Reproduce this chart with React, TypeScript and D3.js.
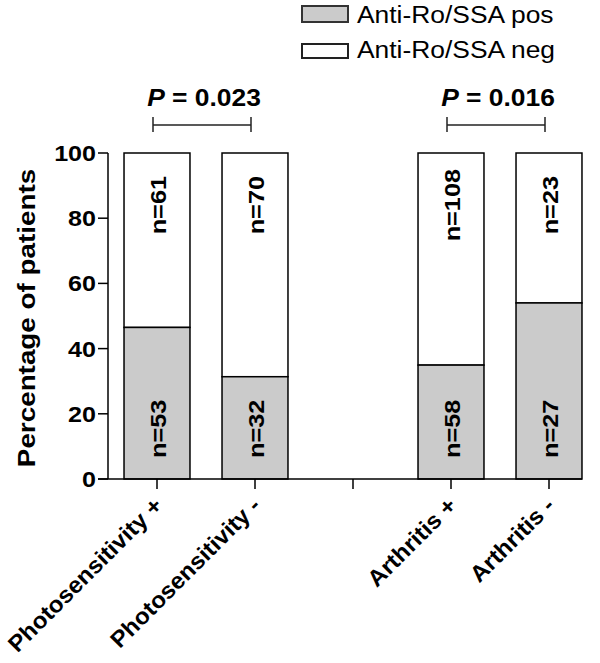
import React from "react";
import * as d3 from "d3";

const categories = ["Photosensitivity +", "Photosensitivity -", "", "Arthritis +", "Arthritis -"];
const posCounts = [53, 32, null, 58, 27];
const negCounts = [61, 70, null, 108, 23];
const yTicks = [0, 20, 40, 60, 80, 100];
const seriesNames = ["Anti-Ro/SSA pos", "Anti-Ro/SSA neg"];
const comparisons = [
  { from: 0, to: 1, label: "0.023" },
  { from: 3, to: 4, label: "0.016" },
];

const W = 600, H = 663;
const FONT = "'Liberation Sans', Arial, Helvetica, sans-serif";
const POS_FILL = "#cbcbcb";

export default function App() {
  const keys = categories.map((c, i) => `k${i}`);
  const x = d3.scaleBand<string>().domain(keys).range([108, 598]).paddingInner(0.327).paddingOuter(0.1635);
  const y = d3.scaleLinear().domain([0, 100]).range([479, 153]);
  const axisX = 108;
  const x0 = y(0);
  const lastEnd = (x(keys[keys.length - 1]) as number) + x.bandwidth();

  return (
    <svg width={W} height={H} style={{ position: "absolute", left: 0, top: 0, background: "#fff" }} fontFamily={FONT}>
      {/* Legend */}
      <g>
        <rect x={302} y={6} width={46} height={16} fill={POS_FILL} stroke="#333" strokeWidth={2} />
        <text transform="translate(357,23) scale(1.1,1)" fontSize={24}>{seriesNames[0]}</text>
        <rect x={302} y={44} width={46} height={14} fill="#fff" stroke="#222" strokeWidth={2} />
        <text transform="translate(357,58) scale(1.1,1)" fontSize={24}>{seriesNames[1]}</text>
      </g>

      {/* Bars */}
      {keys.map((k, i) => {
        const p = posCounts[i], n = negCounts[i];
        if (p == null || n == null) return null;
        const pct = (p / (p + n)) * 100;
        const bx = x(k) as number;
        const bw = x.bandwidth();
        const cx = bx + bw / 2;
        return (
          <g key={k}>
            <rect x={bx} y={y(100)} width={bw} height={y(pct) - y(100)} fill="#fff" stroke="#000" strokeWidth={1.5} />
            <rect x={bx} y={y(pct)} width={bw} height={y(0) - y(pct)} fill={POS_FILL} stroke="#000" strokeWidth={1.5} />
            <text transform={`translate(${cx + 9},${y(84)}) rotate(-90) scale(1.15,1)`} textAnchor="middle" fontSize={22} fontWeight="bold">{`n=${n}`}</text>
            <text transform={`translate(${cx + 9},${y(15.4)}) rotate(-90) scale(1.15,1)`} textAnchor="middle" fontSize={22} fontWeight="bold">{`n=${p}`}</text>
          </g>
        );
      })}

      {/* Y axis */}
      <line x1={axisX} x2={axisX} y1={y(100)} y2={x0} stroke="#000" strokeWidth={1.5} />
      {yTicks.map((t) => (
        <g key={t}>
          <line x1={axisX - 10} x2={axisX} y1={y(t)} y2={y(t)} stroke="#000" strokeWidth={1.5} />
          <text transform={`translate(96,${y(t) + 8}) scale(1.14,1)`} textAnchor="end" fontSize={22} fontWeight="bold">{t}</text>
        </g>
      ))}
      <text transform={`translate(35,${(y(0) + y(100)) / 2 + 2}) rotate(-90) scale(1.21,1)`} textAnchor="middle" fontSize={23} fontWeight="bold">Percentage of patients</text>

      {/* X axis */}
      <line x1={axisX - 10} x2={lastEnd} y1={x0} y2={x0} stroke="#000" strokeWidth={1.5} />
      {keys.map((k, i) => {
        const cx = (x(k) as number) + x.bandwidth() / 2;
        return (
          <g key={k}>
            <line x1={cx} x2={cx} y1={x0} y2={x0 + 10} stroke="#000" strokeWidth={1.5} />
            {categories[i] && (
              <text transform={`translate(${cx + 7},${x0 + 28}) rotate(-45) scale(1.05,1)`} textAnchor="end" fontSize={23} fontWeight="bold">{categories[i]}</text>
            )}
          </g>
        );
      })}

      {/* Significance brackets */}
      {comparisons.map((c, i) => {
        const a = (x(keys[c.from]) as number) + x.bandwidth() / 2 - 4;
        const b = (x(keys[c.to]) as number) + x.bandwidth() / 2 - 4;
        const by = 125;
        return (
          <g key={i}>
            <line x1={a} x2={b} y1={by} y2={by} stroke="#222" strokeWidth={1.5} />
            <line x1={a} x2={a} y1={by - 8} y2={by + 7} stroke="#222" strokeWidth={1.5} />
            <line x1={b} x2={b} y1={by - 8} y2={by + 7} stroke="#222" strokeWidth={1.5} />
            <text transform={`translate(${(a + b) / 2 + 2},106) scale(1.1,1)`} textAnchor="middle" fontSize={24} fontWeight="bold">
              <tspan fontStyle="italic">P</tspan> = {c.label}
            </text>
          </g>
        );
      })}
    </svg>
  );
}
